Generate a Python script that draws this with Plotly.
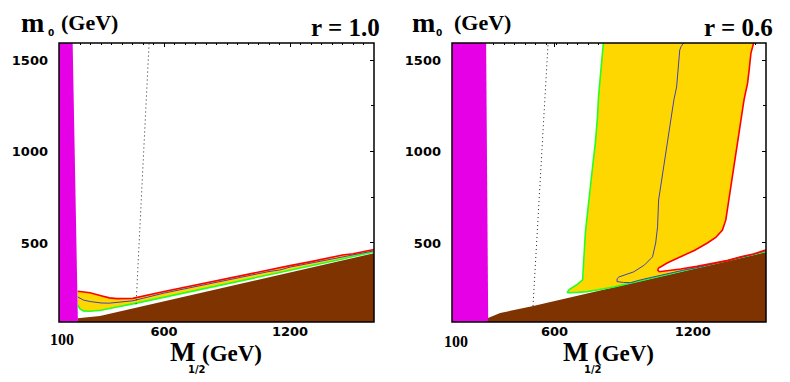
import plotly.graph_objects as go

# ---- panel 1 : r = 1.0 ----
m12_l = [189, 200, 216, 248, 300, 340, 375, 452, 600, 800, 1000, 1100, 1150, 1200, 1300, 1400, 1450, 1500, 1600]
red_l = [236, 235, 234, 228, 212, 200, 196, 197, 235, 283, 330, 352, 367, 376, 398, 421, 434, 441, 464]
blue_l = [205, 196, 188, 180, 172, 171, 174, 184, 226, 274, 322, 344, 352, 368, 390, 411, 425, 435, 457]
green_l = [161, 140, 129, 127, 132, 140, 150, 167, 203, 252, 300, 325, 336, 350, 375, 401, 412, 426, 451]
brown_l_x = [189, 295, 1600]
brown_l_y = [89, 101, 444]
magenta_l_x = [190, 165]          # edge at bottom, at top
dotted_l_x = [467, 529]
dotted_l_y = [165, 1593]

# ---- panel 2 : r = 0.6 ----
green_r_x = [823, 815, 808, 800, 795, 785, 770, 756, 745, 737, 733, 729, 724, 700, 680, 660, 650,
             660, 700, 745, 800, 872, 950, 1000, 1100, 1200, 1300, 1400, 1500, 1600]
green_r_y = [1593, 1500, 1400, 1300, 1189, 1050, 900, 735, 640, 555, 450, 336, 298, 275, 260, 245, 229,
             228, 230, 234, 244, 259, 280, 294, 320, 347, 373, 400, 426, 453]
blue_r_x = [1207, 1195, 1188, 1180, 1173, 1160, 1145, 1120, 1100, 1087, 1082, 1073, 1058, 1020, 968, 920,
            897, 889, 888, 920, 953, 1000, 1050, 1111, 1200, 1274, 1350, 1432, 1520, 1600]
blue_r_y = [1593, 1575, 1555, 1450, 1353, 1282, 1172, 1000, 850, 735, 588, 500, 424, 380, 342, 322,
            314, 305, 289, 284, 283, 298, 312, 327, 350, 366, 386, 409, 432, 458]
red_r_x = [1541, 1535, 1528, 1520, 1512, 1495, 1470, 1445, 1422, 1408, 1392, 1360, 1320, 1260, 1192,
           1130, 1087, 1083, 1090, 1130, 1192, 1270, 1351, 1420, 1480, 1540, 1600]
red_r_y = [1593, 1560, 1538, 1450, 1374, 1282, 1100, 900, 735, 626, 571, 530, 500, 460, 425,
           392, 363, 352, 343, 348, 358, 372, 391, 405, 425, 440, 462]
brown_r_x = [272, 330, 488, 1600]
brown_r_y = [90, 117, 156, 450]
magenta_r_x = [273, 263]
dotted_r_x = [487, 559]
dotted_r_y = [156, 1593]

XR = [100, 1600]
YR = [68, 1593]

MAGENTA = "#E600E6"
BROWN = "#7F3300"
YELLOW = "#FFD700"
GREEN = "#22FF22"
RED = "#FF0000"
BLUE = "#4040C0"

fig = go.Figure()


def add_panel(xa, ya, gx, gy, bx, by, rx, ry, brx, bry, mag, dx, dy):
    # yellow band between green and red contours
    fig.add_trace(go.Scatter(x=gx + rx[::-1], y=gy + ry[::-1], fill="toself", fillcolor=YELLOW,
                             mode="none", xaxis=xa, yaxis=ya, hoverinfo="skip"))
    # excluded (brown)
    fig.add_trace(go.Scatter(x=[brx[0]] + brx + [XR[1]], y=[YR[0]] + bry + [YR[0]], fill="toself",
                             fillcolor=BROWN, mode="none", xaxis=xa, yaxis=ya, hoverinfo="skip"))
    # excluded (magenta)
    fig.add_trace(go.Scatter(x=[XR[0], mag[0], mag[1], XR[0]], y=[YR[0], YR[0], YR[1], YR[1]],
                             fill="toself", fillcolor=MAGENTA, mode="none", xaxis=xa, yaxis=ya,
                             hoverinfo="skip"))
    for lx, ly, col, w in [(gx, gy, GREEN, 1.6), (bx, by, BLUE, 1.0), (rx, ry, RED, 1.6)]:
        fig.add_trace(go.Scatter(x=lx, y=ly, mode="lines", line=dict(color=col, width=w),
                                 xaxis=xa, yaxis=ya, hoverinfo="skip"))
    fig.add_trace(go.Scatter(x=dx, y=dy, mode="lines", line=dict(color="#222222", width=1, dash="1px,3px"),
                             xaxis=xa, yaxis=ya, hoverinfo="skip"))


add_panel("x", "y", m12_l, green_l, m12_l, blue_l, m12_l, red_l, brown_l_x, brown_l_y,
          magenta_l_x, dotted_l_x, dotted_l_y)
add_panel("x2", "y2", green_r_x, green_r_y, blue_r_x, blue_r_y, red_r_x, red_r_y, brown_r_x, brown_r_y,
          magenta_r_x, dotted_r_x, dotted_r_y)

W, H = 790, 382
ydom = [(H - 322) / H, (H - 43) / H]
tickfont = dict(family="DejaVu Sans", size=13, color="black", weight="bold")

common_x = dict(range=XR, showgrid=False, zeroline=False, showline=False, layer="below traces",
                ticks="inside", ticklen=4, tickcolor="black", mirror="ticks", tickfont=tickfont,
                minor=dict(ticks="inside", dtick=50, ticklen=2, tickcolor="black"))
common_y = dict(range=YR, showgrid=False, zeroline=False, showline=False, layer="below traces",
                ticks="inside", ticklen=4, tickcolor="black", mirror="ticks", tickfont=tickfont,
                tickvals=[500, 1000, 1500], ticklabelstandoff=10,
                minor=dict(ticks="inside", tickvals=[250, 750, 1250], ticklen=3, tickcolor="black"))

fig.update_layout(
    width=W, height=H, margin=dict(l=0, r=0, t=0, b=0),
    paper_bgcolor="white", plot_bgcolor="white", showlegend=False,
    xaxis=dict(common_x, domain=[59 / W, 374 / W], anchor="y", tickvals=[600, 1200], ticktext=["600", "1200"]),
    yaxis=dict(common_y, domain=ydom, anchor="x"),
    xaxis2=dict(common_x, domain=[452 / W, 766 / W], anchor="y2", tickvals=[590, 1250],
                ticktext=["600", "1200"]),
    yaxis2=dict(common_y, domain=ydom, anchor="x2"),
)

# frames
for xr, yr in [("x domain", "y domain"), ("x2 domain", "y2 domain")]:
    fig.add_shape(type="rect", xref=xr, yref=yr, x0=0, x1=1, y0=0, y1=1,
                  line=dict(color="black", width=1.5), layer="above")


def txt(s, px, py, size, family="Liberation Serif", xanchor="center", bold=True):
    fig.add_annotation(text=s, x=px / W, y=1 - py / H, xref="paper", yref="paper", showarrow=False,
                       xanchor=xanchor, yanchor="middle",
                       font=dict(family=family, size=size, color="black", weight="bold" if bold else "normal"))


for off, rlab, m_x, o_x, gev_x in [(0, "r = 1.0", 32, 51, 89), (393, "r = 0.6", 423, 439, 482)]:
    txt("m", m_x, 22, 28)
    txt("0", o_x, 33, 9, family="DejaVu Sans")
    txt("(GeV)", gev_x, 22, 22)
    txt(rlab, 382 + off, 28, 25, xanchor="right")

# x titles
txt("M", 182, 352, 27)
txt("1/2", 197, 369, 10, family="DejaVu Sans")
txt("(GeV)", 232, 353, 23)
txt("M", 575, 352, 27)
txt("1/2", 593, 369, 10, family="DejaVu Sans")
txt("(GeV)", 624, 353, 23)
# leftmost x labels
txt("100", 62, 339, 16)
txt("100", 456, 341, 16)

fig.write_html("out.html", config={"displayModeBar": False},
               post_script="document.body.style.margin='0';")
